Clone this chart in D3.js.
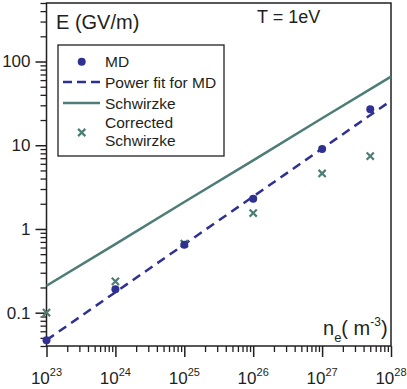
<!DOCTYPE html>
<html>
<head>
<meta charset="utf-8">
<script src="https://cdn.jsdelivr.net/npm/d3@7"></script>
<style>
  html, body { margin: 0; padding: 0; background: #fff; }
  svg { display: block; font-family: "Liberation Sans", Arial, sans-serif; }
</style>
</head>
<body>
<svg id="chart" width="407" height="389"></svg>
<script>
// ---- data ----
const density = [1e23, 1e24, 1e25, 1e26, 1e27, 5e27];
const mdField = [0.047, 0.19, 0.65, 2.3, 9.0, 27];
const correctedField = [0.1, 0.237, 0.67, 1.55, 4.6, 7.4];
const fitDensity = [1e23, 1e28];
const fitField = [0.047, 34];
const schwDensity = [1e23, 1e24, 1e25, 1e26, 1e27, 1e28];
const schwField = [0.21, 0.66, 2.1, 6.6, 21, 66];
const yMajorTicks = [0.1, 1, 10, 100];
const yTickLabels = ["0.1", "1", "10", "100"];
const xMajorTicks = [1e23, 1e24, 1e25, 1e26, 1e27, 1e28];
const xTickExponents = ["23", "24", "25", "26", "27", "28"];
const legendLabels = ["MD", "Power fit for MD", "Schwirzke", "Corrected", "Schwirzke"];

const navy = "#2e3192";
const teal = "#4d7d76";
const ink = "#231f20";

const svg = d3.select("#chart");
const x = d3.scaleLog().domain([1e23, 1e28]).range([46.5, 391]);
const y = d3.scaleLog().domain([0.04, 500]).range([346, 3]);

// frame
svg.append("rect").attr("x", x.range()[0]).attr("y", y.range()[1])
  .attr("width", x.range()[1] - x.range()[0]).attr("height", y.range()[0] - y.range()[1])
  .attr("fill", "none").attr("stroke", ink).attr("stroke-width", 1.5);

// y axis minor + major
const yMinor = y.ticks().filter(v => !yMajorTicks.some(m => Math.abs(m - v) / m < 1e-6));
svg.append("g").attr("transform", `translate(${x.range()[0]},0)`)
  .call(d3.axisLeft(y).tickValues(yMinor).tickSize(6).tickFormat(""))
  .call(g => g.select(".domain").remove())
  .selectAll("line").attr("stroke", ink).attr("stroke-width", 1.3);
const yg = svg.append("g").attr("transform", `translate(${x.range()[0]},0)`)
  .call(d3.axisLeft(y).tickValues(yMajorTicks).tickSize(11).tickPadding(5)
    .tickFormat((d, i) => yTickLabels[i]))
  .call(g => g.select(".domain").remove());
yg.selectAll("line").attr("stroke", ink).attr("stroke-width", 1.5);
yg.selectAll("text").attr("font-size", 17).attr("font-family", "Liberation Sans, Arial, sans-serif").attr("fill", ink);

// x axis minor + major
const xMinor = x.ticks().filter(v => !xMajorTicks.some(m => Math.abs(m - v) / m < 1e-6));
svg.append("g").attr("transform", `translate(0,${y.range()[0]})`)
  .call(d3.axisBottom(x).tickValues(xMinor).tickSize(6).tickFormat(""))
  .call(g => g.select(".domain").remove())
  .selectAll("line").attr("stroke", ink).attr("stroke-width", 1.3);
svg.append("g").attr("transform", `translate(0,${y.range()[0]})`)
  .call(d3.axisBottom(x).tickValues(xMajorTicks).tickSize(11).tickFormat(""))
  .call(g => g.select(".domain").remove())
  .selectAll("line").attr("stroke", ink).attr("stroke-width", 1.5);

const xl = svg.append("g").selectAll("text").data(xMajorTicks).join("text")
  .attr("x", d => x(d)).attr("y", 384).attr("text-anchor", "middle")
  .attr("font-size", 17).attr("fill", ink);
xl.append("tspan").text("10");
xl.append("tspan").attr("font-size", 11).attr("dy", -8).text((d, i) => xTickExponents[i]);

// lines
const line = d3.line().x(d => x(d[0])).y(d => y(d[1]));
svg.append("path").datum(schwDensity.map((d, i) => [d, schwField[i]]))
  .attr("d", line).attr("fill", "none").attr("stroke", teal).attr("stroke-width", 2.5);
svg.append("path").datum(fitDensity.map((d, i) => [d, fitField[i]]))
  .attr("d", line).attr("fill", "none").attr("stroke", navy).attr("stroke-width", 2.5)
  .attr("stroke-dasharray", "9,6");

// markers
function cross(g, cx, cy) {
  const s = 3.6;
  g.append("path").attr("d", `M${cx - s},${cy - s}L${cx + s},${cy + s}M${cx - s},${cy + s}L${cx + s},${cy - s}`)
    .attr("stroke", teal).attr("stroke-width", 2.2).attr("fill", "none");
}
const cg = svg.append("g");
density.forEach((d, i) => cross(cg, x(d), y(correctedField[i])));
svg.append("g").selectAll("circle").data(density).join("circle")
  .attr("cx", d => x(d)).attr("cy", (d, i) => y(mdField[i])).attr("r", 4).attr("fill", navy);

// legend
const lg = svg.append("g");
lg.append("rect").attr("x", 58).attr("y", 45).attr("width", 166).attr("height", 111)
  .attr("fill", "#fff").attr("stroke", ink).attr("stroke-width", 1.3);
lg.append("circle").attr("cx", 81.7).attr("cy", 61.7).attr("r", 4).attr("fill", navy);
lg.append("line").attr("x1", 63).attr("x2", 100).attr("y1", 82).attr("y2", 82)
  .attr("stroke", navy).attr("stroke-width", 2.5).attr("stroke-dasharray", "9,5");
lg.append("line").attr("x1", 63).attr("x2", 100).attr("y1", 103).attr("y2", 103)
  .attr("stroke", teal).attr("stroke-width", 2.5);
cross(lg, 81.7, 132.5);
const ly = [67, 88, 108.5, 128, 146];
lg.selectAll("text").data(legendLabels).join("text")
  .attr("x", 105).attr("y", (d, i) => ly[i]).attr("font-size", 15.5).attr("fill", ink).text(d => d);

// titles
svg.append("text").attr("x", 56).attr("y", 29).attr("font-size", 20).attr("fill", ink).text("E (GV/m)");
svg.append("text").attr("x", 257).attr("y", 23).attr("font-size", 18).attr("fill", ink).text("T = 1eV");
const xt = svg.append("text").attr("x", 323).attr("y", 335).attr("font-size", 20).attr("fill", ink);
xt.append("tspan").text("n");
xt.append("tspan").attr("font-size", 13).attr("dy", 7).text("e");
xt.append("tspan").attr("dy", -7).text("( m");
xt.append("tspan").attr("font-size", 12).attr("dy", -9).text("-3");
xt.append("tspan").attr("dy", 9).text(")");
</script>
</body>
</html>
